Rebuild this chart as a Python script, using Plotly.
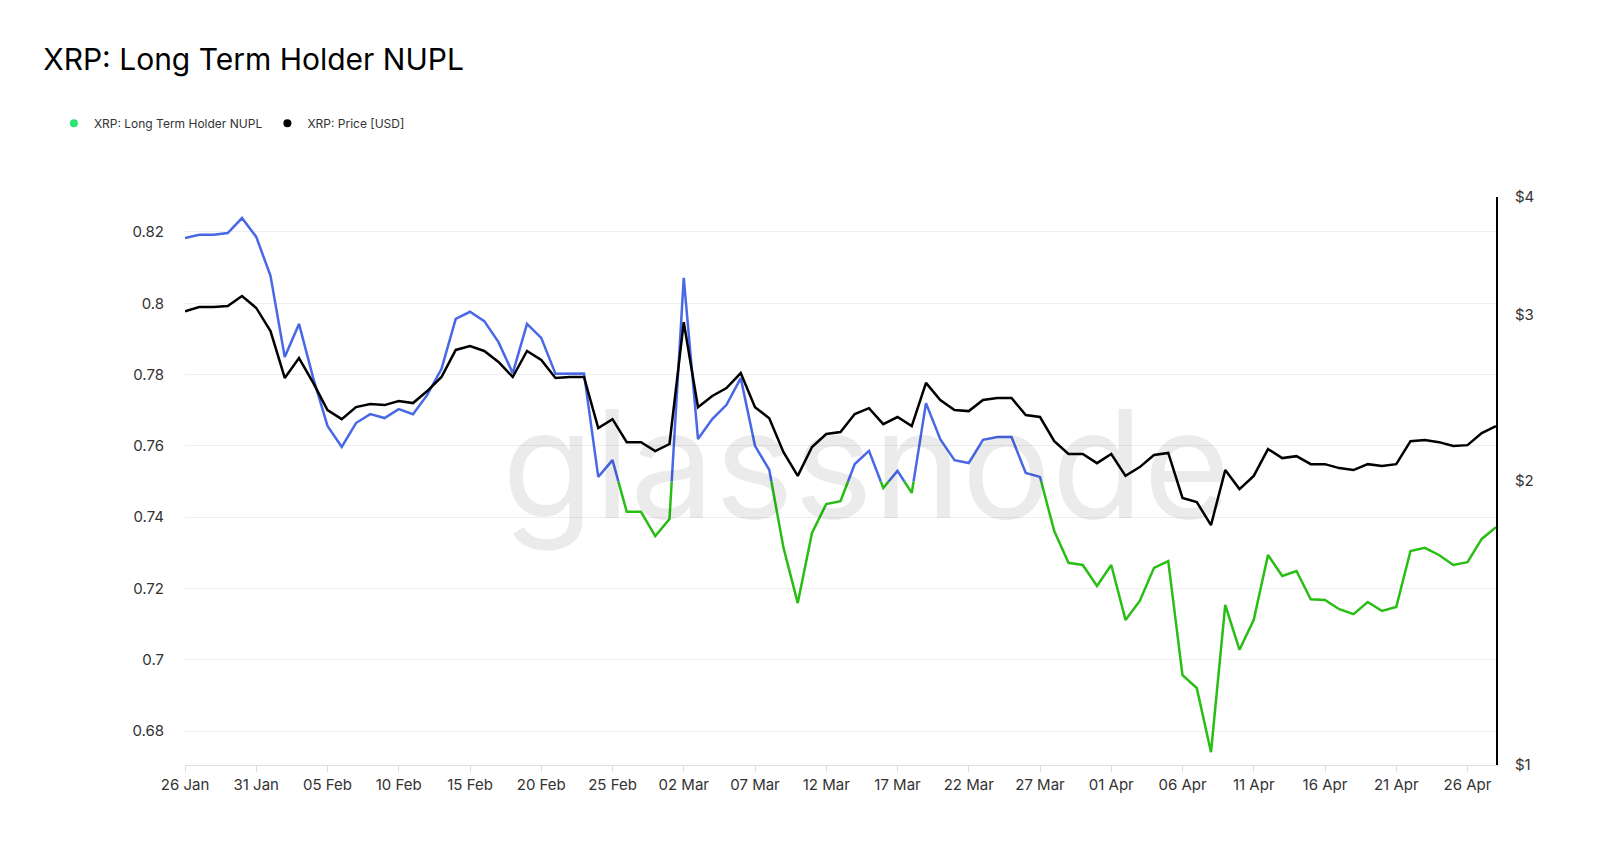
import datetime
import plotly.graph_objects as go

start = datetime.date(2025, 1, 26)

nupl = [0.8183, 0.8192, 0.8192, 0.8197, 0.8239, 0.8186, 0.8077, 0.7849, 0.7942, 0.7790,
        0.7656, 0.7597, 0.7664, 0.7689, 0.7678, 0.7703, 0.7689, 0.7743, 0.7816, 0.7956,
        0.7976, 0.7950, 0.7891, 0.7804, 0.7942, 0.7903, 0.7802, 0.7802, 0.7803, 0.7513,
        0.7560, 0.7415, 0.7415, 0.7347, 0.7395, 0.8071, 0.7619, 0.7675, 0.7715, 0.7790,
        0.7600, 0.7533, 0.7314, 0.7159, 0.7356, 0.7437, 0.7445, 0.7549, 0.7586, 0.7482,
        0.7530, 0.7468, 0.7720, 0.7619, 0.7560, 0.7552, 0.7617, 0.7625, 0.7625, 0.7524,
        0.7513, 0.7361, 0.7272, 0.7266, 0.7207, 0.7266, 0.7112, 0.7165, 0.7258, 0.7277,
        0.6957, 0.6921, 0.6741, 0.7154, 0.7028, 0.7112, 0.7294, 0.7235, 0.7249, 0.7170,
        0.7168, 0.7142, 0.7128, 0.7162, 0.7137, 0.7148, 0.7305, 0.7314, 0.7294, 0.7266,
        0.7274, 0.7339, 0.7372]

price = [3.027, 3.058, 3.058, 3.065, 3.141, 3.051, 2.884, 2.572, 2.700, 2.541,
         2.378, 2.326, 2.395, 2.413, 2.407, 2.431, 2.419, 2.491, 2.578, 2.754,
         2.780, 2.747, 2.674, 2.578, 2.747, 2.687, 2.572, 2.578, 2.578, 2.276,
         2.326, 2.199, 2.199, 2.151, 2.189, 2.947, 2.395, 2.461, 2.509, 2.603,
         2.395, 2.331, 2.146, 2.025, 2.173, 2.243, 2.254, 2.355, 2.389, 2.298,
         2.338, 2.287, 2.541, 2.437, 2.378, 2.372, 2.437, 2.449, 2.449, 2.349,
         2.338, 2.204, 2.136, 2.136, 2.089, 2.136, 2.025, 2.069, 2.131, 2.142,
         1.919, 1.900, 1.796, 2.054, 1.961, 2.025, 2.162, 2.115, 2.125, 2.084,
         2.084, 2.064, 2.054, 2.084, 2.074, 2.084, 2.204, 2.210, 2.199, 2.178,
         2.183, 2.248, 2.287]

dates = [datetime.datetime.combine(start + datetime.timedelta(days=i), datetime.time()) for i in range(len(nupl))]
threshold = 0.75

# split the NUPL line into blue (above threshold) and green (below), cutting at the crossing
bx, by, gx, gy = [], [], [], []
for i, v in enumerate(nupl):
    if i > 0:
        p = nupl[i - 1]
        if (p >= threshold) != (v >= threshold):
            f = (threshold - p) / (v - p)
            cx = dates[i - 1] + (dates[i] - dates[i - 1]) * f
            bx.append(cx); by.append(threshold)
            gx.append(cx); gy.append(threshold)
            if v >= threshold:
                gx.append(None); gy.append(None)
            else:
                bx.append(None); by.append(None)
    if v >= threshold:
        bx.append(dates[i]); by.append(v)
    else:
        gx.append(dates[i]); gy.append(v)

fig = go.Figure()
fig.add_trace(go.Scatter(x=bx, y=by, mode='lines', line=dict(color='rgb(72,104,230)', width=2.5),
                         showlegend=False, hoverinfo='skip'))
fig.add_trace(go.Scatter(x=gx, y=gy, mode='lines', line=dict(color='rgb(40,190,20)', width=2.5),
                         name='XRP: Long Term Holder NUPL', showlegend=False))
fig.add_trace(go.Scatter(x=[None], y=[None], mode='markers', marker=dict(color='rgb(40,230,110)', size=8),
                         name='XRP: Long Term Holder NUPL'))
fig.add_trace(go.Scatter(x=dates, y=price, mode='lines', line=dict(color='black', width=2.5),
                         name='XRP: Price [USD]', yaxis='y2', showlegend=False))
fig.add_trace(go.Scatter(x=[None], y=[None], mode='markers', marker=dict(color='black', size=8),
                         name='XRP: Price [USD]'))

tickdates = [start + datetime.timedelta(days=5 * i) for i in range(19)]

fig.update_layout(
    width=1600, height=853,
    plot_bgcolor='white', paper_bgcolor='white',
    font=dict(family='Inter, Roboto, sans-serif', color='#333', size=15),
    margin=dict(l=177, r=112, t=189, b=96),
    title=dict(text='XRP: Long Term Holder NUPL', x=0.022, xanchor='left', y=0.952,
               font=dict(size=30, color='black')),
    legend=dict(orientation='h', x=-0.1, xanchor='left', y=1.13, yanchor='middle',
                font=dict(size=12, color='#333'), itemwidth=30),
    xaxis=dict(range=[start, start + datetime.timedelta(days=92.8)], tickvals=tickdates,
               tickformat='%d %b', showgrid=False, showline=True, linecolor='#ddd',
               ticks='outside', ticklen=6, tickcolor='#ddd'),
    yaxis=dict(range=[0.6705, 0.8298], tickvals=[0.68, 0.7, 0.72, 0.74, 0.76, 0.78, 0.8, 0.82],
               ticktext=['0.68', '0.7', '0.72', '0.74', '0.76', '0.78', '0.8', '0.82'],
               gridcolor='#eeeeee', zeroline=False, ticklabelstandoff=20),
    yaxis2=dict(overlaying='y', side='right', type='log', range=[0, 0.60206],
                tickvals=[1, 2, 3, 4], ticktext=['$1', '$2', '$3', '$4'], showgrid=False,
                showline=True, linecolor='black', linewidth=2, ticklabelstandoff=14),
    annotations=[dict(text='glassnode', xref='paper', yref='paper', x=0.52, y=0.53,
                      showarrow=False, font=dict(size=150, color='rgba(0,0,0,0.08)'))],
)

fig.write_html("out.html")
